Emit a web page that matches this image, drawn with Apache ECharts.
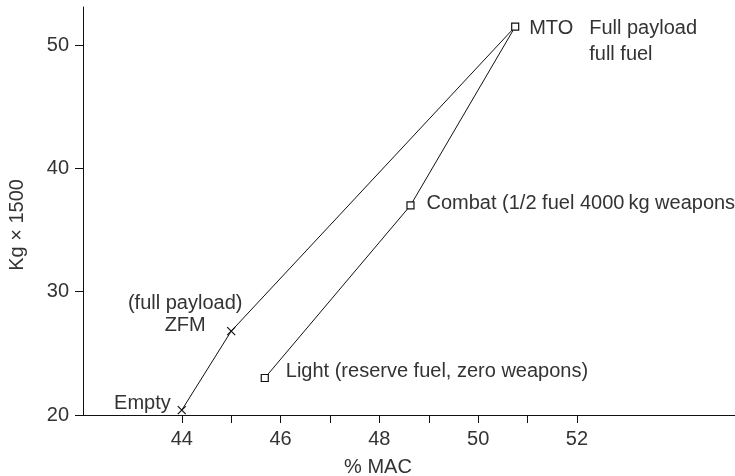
<!DOCTYPE html>
<html>
<head>
<meta charset="utf-8">
<script src="https://cdn.jsdelivr.net/npm/echarts@6/dist/echarts.min.js"></script>
<style>html,body{margin:0;padding:0;background:#fff}#c{width:735px;height:476px}</style>
</head>
<body>
<div id="c"></div>
<script>
// Data (path: Empty -> ZFM -> MTO -> Combat -> Light)
const pointNames = ['Empty', 'ZFM', 'MTO', 'Combat', 'Light'];
const macValues = [44.0, 45.0, 50.75, 48.63, 45.68];
const massValues = [20.4, 26.8, 51.5, 37.0, 23.0];
const markerTypes = ['cross', 'cross', 'square', 'square', 'square'];
const xTickValues = [44, 45, 46, 47, 48, 49, 50, 51, 52];
const xLabelValues = [44, 46, 48, 50, 52];
const yTickValues = [20, 30, 40, 50];
const xAxisName = '% MAC';
const yAxisName = 'Kg \u00d7 1500';

const FONT = 'Liberation Sans';
const FS = 20;
const TXT = '#333';
const crossPath = 'path://M0,0L10,10M10,0L0,10';

const labelCfg = {
  Empty: { formatter: 'Empty', align: 'right', offset: [-11, -7] },
  ZFM: { formatter: '(full payload)\nZFM', align: 'center', offset: [-46, -17], lineHeight: 22 },
  MTO: { formatter: '{a|MTO}{b|Full payload}\n{a|}{b|full fuel}', align: 'left', offset: [14, 15], lineHeight: 26,
         rich: { a: { width: 60, fontSize: FS, fontFamily: FONT, color: TXT }, b: { fontSize: FS, fontFamily: FONT, color: TXT } } },
  Combat: { formatter: 'Combat (1/2 fuel 4000\u2009kg weapons)', align: 'left', offset: [16, -2] },
  Light: { formatter: 'Light (reserve fuel, zero weapons)', align: 'left', offset: [21, -7] }
};

const seriesData = pointNames.map((n, i) => {
  const lc = labelCfg[n];
  return {
    value: [macValues[i], massValues[i]],
    symbol: markerTypes[i] === 'cross' ? crossPath : 'rect',
    symbolSize: markerTypes[i] === 'cross' ? 8 : 7,
    label: Object.assign({
      show: true, position: 'inside', verticalAlign: 'middle',
      fontSize: FS, fontFamily: FONT, color: TXT
    }, lc)
  };
});

const chart = echarts.init(document.getElementById('c'), null, { renderer: 'canvas' });
chart.setOption({
  animation: false,
  backgroundColor: '#fff',
  grid: { left: 83, right: 0, top: 7, bottom: 61, containLabel: false, outerBoundsMode: 'none' },
  xAxis: {
    type: 'value', min: 42, max: 55.2,
    name: xAxisName, nameLocation: 'middle', nameGap: 42,
    nameTextStyle: { fontSize: FS, fontFamily: FONT, color: TXT, padding: [0, 62, 0, 0] },
    axisLine: { lineStyle: { color: '#111', width: 1 } },
    axisTick: { show: true, length: 8, inside: false, customValues: xTickValues, lineStyle: { color: '#111' } },
    axisLabel: { customValues: xLabelValues, fontSize: FS, fontFamily: FONT, color: TXT, margin: 14 },
    splitLine: { show: false }
  },
  yAxis: {
    type: 'value', min: 20, max: 53.1,
    name: yAxisName, nameLocation: 'middle', nameGap: 56, nameRotate: 90,
    nameTextStyle: { fontSize: FS, fontFamily: FONT, color: TXT, padding: [0, 28, 0, 0] },
    axisLine: { show: true, lineStyle: { color: '#111', width: 1 } },
    axisTick: { show: true, length: 8, inside: false, customValues: yTickValues, lineStyle: { color: '#111' } },
    axisLabel: { customValues: yTickValues, fontSize: FS, fontFamily: FONT, color: TXT, margin: 14 },
    splitLine: { show: false }
  },
  series: [{
    type: 'line',
    data: seriesData,
    lineStyle: { color: '#111', width: 1 },
    itemStyle: { color: '#fff', borderColor: '#111', borderWidth: 1.2 },
    showAllSymbol: true,
    z: 3
  }]
});
</script>
</body>
</html>
